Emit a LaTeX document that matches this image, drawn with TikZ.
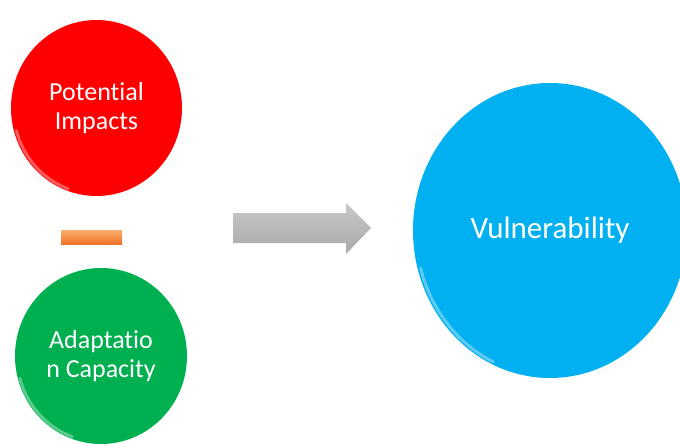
\documentclass[tikz,border=0pt]{standalone}
\usepackage{xcolor}
\usepackage{fontspec}
\setmainfont{Carlito}[RawFeature={-liga}]
\usepackage{tikz}
\usetikzlibrary{shapes.geometric}

\definecolor{impactred}{HTML}{FF0000}
\definecolor{adaptgreen}{HTML}{00B050}
\definecolor{vulnblue}{HTML}{00B0F0}
\definecolor{minusorange}{HTML}{EE7222}
\definecolor{minuslight}{HTML}{F9AE70}
\definecolor{arrowgray}{HTML}{A9A9A9}
\definecolor{arrowlight}{HTML}{C8C8C8}

\begin{document}
\begin{tikzpicture}[
    x=1pt, y=-1pt,
    bubble/.style={ellipse, inner sep=0pt, align=center, text=white, font=\fontsize{26}{28.5}\selectfont},
    gloss/.style={white, opacity=0.35, line width=3pt, line cap=round}
]
\useasboundingbox (0,0) rectangle (680,444);
\clip (0,0) rectangle (680,444);

% input circles
\node[bubble, fill=impactred, minimum width=171pt, minimum height=176pt] (impacts) at (96.5,108) {Potential\\Impacts};
\node[bubble, fill=adaptgreen, minimum width=172pt, minimum height=176pt] (adapt) at (101,356) {Adaptatio\\n Capacity};

% minus sign
\node[rectangle, inner sep=0pt, minimum width=61pt, minimum height=14pt,
      top color=minuslight, bottom color=minusorange] (minus) at (91.5,237) {};

% result circle
\node[bubble, fill=vulnblue, minimum width=274pt, minimum height=295pt,
      font=\fontsize{31}{34}\selectfont] (vuln) at (550,230.5) {Vulnerability};

% gloss on the rims
\draw[gloss] ([shift={(195:83pt and 86pt)}]impacts.center) arc[start angle=195, end angle=250, x radius=83pt, y radius=86pt];
\draw[gloss] ([shift={(195:84pt and 86pt)}]adapt.center) arc[start angle=195, end angle=250, x radius=84pt, y radius=86pt];
\draw[gloss] ([shift={(195:134pt and 145pt)}]vuln.center) arc[start angle=195, end angle=245, x radius=134pt, y radius=145pt];

% big arrow
\shade[top color=arrowlight, bottom color=arrowgray]
    (233,213) -- (346,213) -- (346,203) -- (371,228) -- (346,254) -- (346,243) -- (233,243) -- cycle;
\end{tikzpicture}
\end{document}
